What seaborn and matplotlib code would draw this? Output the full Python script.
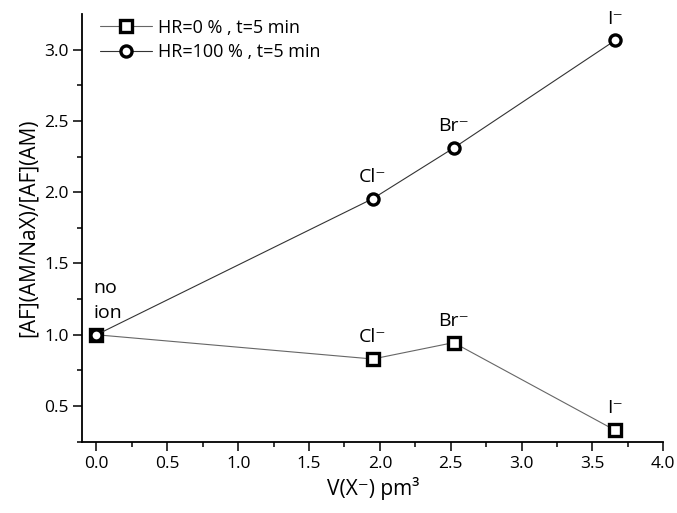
import numpy as np
import pandas as pd
import matplotlib
matplotlib.use("Agg")
import matplotlib.pyplot as plt
import seaborn as sns

sns.set_style("ticks")
plt.rcParams['font.family'] = ['Open Sans', 'DejaVu Sans']
plt.rcParams.update({"text.color": "black", "axes.labelcolor": "black",
                     "xtick.color": "black", "ytick.color": "black",
                     "axes.edgecolor": "black"})

# data
volume = [0.0, 1.95, 2.52, 3.66]
ion_labels = ["", "Cl\u207b", "Br\u207b", "I\u207b"]
hr0 = [1.00, 0.83, 0.945, 0.33]
hr100 = [1.00, 1.955, 2.31, 3.065]

df0 = pd.DataFrame({"V": volume, "ratio": hr0})
df100 = pd.DataFrame({"V": volume, "ratio": hr100})

fig = plt.figure(figsize=(6.77, 5.13), dpi=100)
ax = fig.add_axes([0.1216, 0.139, 0.8582, 0.8337])

mk = dict(markerfacecolor="white", markeredgecolor="black", markeredgewidth=2.4,
          markersize=8, linewidth=0.8)
sns.lineplot(data=df0, x="V", y="ratio", ax=ax, color="#666666", marker="s",
             label="HR=0 % , t=5 min", **mk)
sns.lineplot(data=df100, x="V", y="ratio", ax=ax, color="#333333", marker="o",
             label="HR=100 % , t=5 min", **mk)

# ion labels above the points
ax.text(volume[0] - 0.02, 1.33, "no", fontsize=14, ha="left", va="center")
ax.text(volume[0] - 0.02, 1.15, "ion", fontsize=14, ha="left", va="center")
for i in range(1, 4):
    ax.text(volume[i], hr100[i] + 0.09, ion_labels[i], fontsize=14, ha="center", va="bottom")
    ax.text(volume[i], hr0[i] + 0.09, ion_labels[i], fontsize=14, ha="center", va="bottom")

ax.set_xlim(-0.1, 4.0)
ax.set_ylim(0.25, 3.25)
ax.set_xticks(np.arange(0, 4.01, 0.5))
ax.set_xticks(np.arange(0.25, 4.0, 0.5), minor=True)
ax.set_yticks(np.arange(0.5, 3.01, 0.5))
ax.set_yticks(np.arange(0.25, 3.25, 0.5), minor=True)
ax.tick_params(which="major", length=6.5, width=1.1, labelsize=12.5, direction="out")
ax.tick_params(which="minor", length=3.5, width=1.1, direction="out")
for s in ["top", "right"]:
    ax.spines[s].set_visible(False)
for s in ["left", "bottom"]:
    ax.spines[s].set_linewidth(1.3)

ax.set_xlabel("V(X\u207b) pm\u00b3", fontsize=15)
ax.set_ylabel("[AF](AM/NaX)/[AF](AM)", fontsize=15)

ax.legend(loc="upper left", bbox_to_anchor=(0.027, 0.993), frameon=False,
          fontsize=13, handlelength=2.9, handletextpad=0.3, borderaxespad=0,
          labelspacing=0.35, borderpad=0.1)

fig.savefig("out.png", dpi=100)
